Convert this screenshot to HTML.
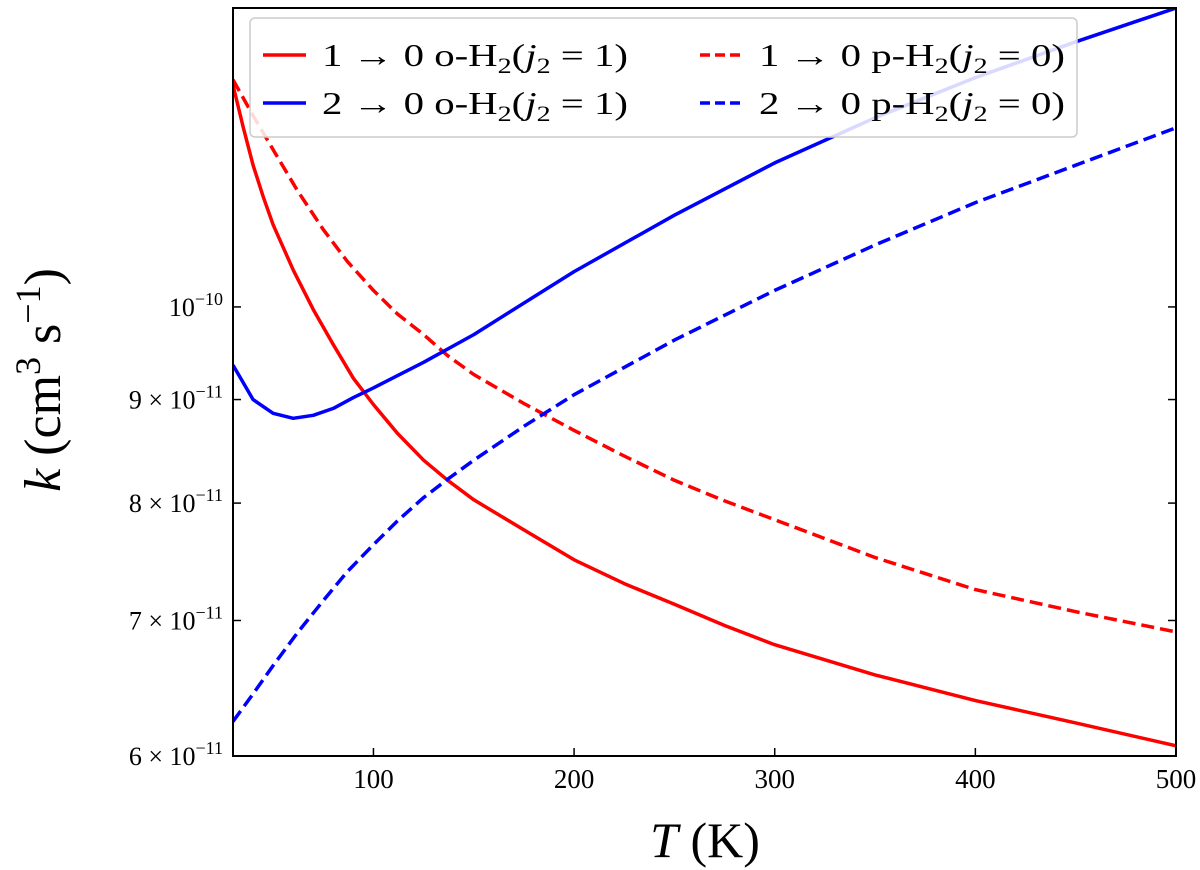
<!DOCTYPE html>
<html><head><meta charset="utf-8"><style>
html,body{margin:0;padding:0;background:#fff;}
svg{display:block;font-family:"Liberation Serif",serif;}
</style></head><body>
<svg id="chart" width="1200" height="870" viewBox="0 0 1200 870" xmlns="http://www.w3.org/2000/svg"></svg>
<script>
const tempsRedSolid = [30,35,40,45,50,60,70,80,90,100,112,125,137,150,175,200,225,250,275,300,350,400,450,500];
const valsRedSolid = [1.287,1.228,1.175,1.134,1.098,1.043,0.997,0.958,0.922,0.895,0.866,0.840,0.821,0.803,0.776,0.750,0.730,0.713,0.696,0.681,0.658,0.639,0.623,0.607];
const tempsRedDash = [30,40,50,62,75,87,100,112,125,137,150,175,200,225,250,275,300,350,400,450,500];
const valsRedDash = [1.295,1.243,1.196,1.142,1.092,1.053,1.019,0.992,0.969,0.946,0.926,0.896,0.869,0.844,0.821,0.802,0.785,0.752,0.725,0.707,0.691];
const tempsBlueSolid = [30,40,50,60,70,80,90,100,125,150,200,250,300,350,400,450,500];
const valsBlueSolid = [0.936,0.900,0.886,0.881,0.884,0.891,0.902,0.912,0.939,0.969,1.041,1.110,1.178,1.240,1.298,1.352,1.405];
const tempsBlueDash = [30,40,50,62,75,87,100,112,125,137,150,175,200,250,300,350,400,450,500];
const valsBlueDash = [0.624,0.644,0.665,0.690,0.716,0.740,0.763,0.784,0.805,0.822,0.840,0.873,0.905,0.963,1.019,1.073,1.126,1.175,1.226];
const xTicks = [100,200,300,400,500];
const yTicks = [0.6,0.7,0.8,0.9,1.0];
const yTickMant = ["6","7","8","9",""];

const NS="http://www.w3.org/2000/svg";
const svg=document.getElementById('chart');
const L=233,R=1176,T=8,B=756;
const xMin=30,xMax=500;
const yMin=Math.log10(0.6),yMax=Math.log10(1.405);
const xs=t=>L+(t-xMin)/(xMax-xMin)*(R-L);
const ys=v=>B-(Math.log10(v)-yMin)/(yMax-yMin)*(B-T);
function mk(tag,attrs,parent){const e=document.createElementNS(NS,tag);for(const k in attrs)e.setAttribute(k,attrs[k]);(parent||svg).appendChild(e);return e;}

const clip=mk('clipPath',{id:'pc'});mk('rect',{x:L,y:T,width:R-L,height:B-T},clip);

function series(t,v,color,dash,name){
  const d=t.map((x,i)=>(i?'L':'M')+xs(x).toFixed(1)+','+ys(v[i]).toFixed(1)).join(' ');
  const p=mk('path',{d:d,fill:'none',stroke:color,'stroke-width':3.5,'stroke-linejoin':'round','clip-path':'url(#pc)'});
  if(dash)p.setAttribute('stroke-dasharray','13,6');
  
  
}
series(tempsRedSolid,valsRedSolid,'#ff0000',false,'line-1to0-ortho');
series(tempsRedDash,valsRedDash,'#ff0000',true,'line-1to0-para');
series(tempsBlueSolid,valsBlueSolid,'#0000ff',false,'line-2to0-ortho');
series(tempsBlueDash,valsBlueDash,'#0000ff',true,'line-2to0-para');

const frame=mk('rect',{x:L,y:T,width:R-L,height:B-T,fill:'none',stroke:'#000','stroke-width':2});



xTicks.forEach(t=>{
  const x=xs(t);
  mk('line',{x1:x,y1:B,x2:x,y2:B-8,stroke:'#000','stroke-width':1.5});
  const tx=mk('text',{x:x,y:B+32,'font-size':27,'text-anchor':'middle'});
  tx.textContent=t;
  
  
});
yTicks.forEach((v,i)=>{
  const y=ys(v);
  mk('line',{x1:L,y1:y,x2:L+8,y2:y,stroke:'#000','stroke-width':1.5});
  mk('line',{x1:R,y1:y,x2:R-8,y2:y,stroke:'#000','stroke-width':1.5});
  const tx=mk('text',{x:L-10,y:y+9,'font-size':26,'text-anchor':'end'});
  
  
  if(yTickMant[i]){
    const a=mk('tspan',{},tx);a.textContent=yTickMant[i]+' × 10';
    const b=mk('tspan',{dy:-11,'font-size':18},tx);b.textContent='−11';
  }else{
    const a=mk('tspan',{},tx);a.textContent='10';
    const b=mk('tspan',{dy:-11,'font-size':18},tx);b.textContent='−10';
  }
});

const xt=mk('text',{x:705,y:857,'font-size':50,'text-anchor':'middle'});
xt.innerHTML='<tspan font-style="italic">T</tspan> (K)';


const yt=mk('text',{x:0,y:0,'font-size':52,'text-anchor':'middle',transform:'translate(60,380) rotate(-90)'});
yt.innerHTML='<tspan font-style="italic">k</tspan> (cm<tspan dy="-20" font-size="36">3</tspan><tspan dy="20"> s</tspan><tspan dy="-20" font-size="36">−1</tspan><tspan dy="20">)</tspan>';



const lg=mk('g',{});


mk('rect',{x:250,y:18,width:827,height:119,rx:5,fill:'#fff','fill-opacity':0.85,stroke:'#ccc','stroke-width':1.5},lg);
const entries=[
 {x:263,y:55,c:'#ff0000',d:false,a:'1'},
 {x:263,y:103,c:'#0000ff',d:false,a:'2'},
 {x:700,y:55,c:'#ff0000',d:true,a:'1'},
 {x:700,y:103,c:'#0000ff',d:true,a:'2'}];
entries.forEach(e=>{
  const g=mk('g',{},lg);
  
  
  const ln=mk('line',{x1:e.x,y1:e.y,x2:e.x+43,y2:e.y,stroke:e.c,'stroke-width':3.5},g);
  if(e.d)ln.setAttribute('stroke-dasharray','10,5');
  const tx=mk('text',{x:e.x+59,y:e.y+11,'font-size':32,textLength:306,lengthAdjust:'spacingAndGlyphs'},g);
  const spin=e.d?'p':'o', j=e.d?'0':'1';
  tx.innerHTML=e.a+' → 0 '+spin+'-H<tspan dy="7" font-size="22">2</tspan><tspan dy="-7">(</tspan><tspan font-style="italic">j</tspan><tspan dy="7" font-size="22">2</tspan><tspan dy="-7"> = '+j+')</tspan>';
});
</script>
</body></html>
